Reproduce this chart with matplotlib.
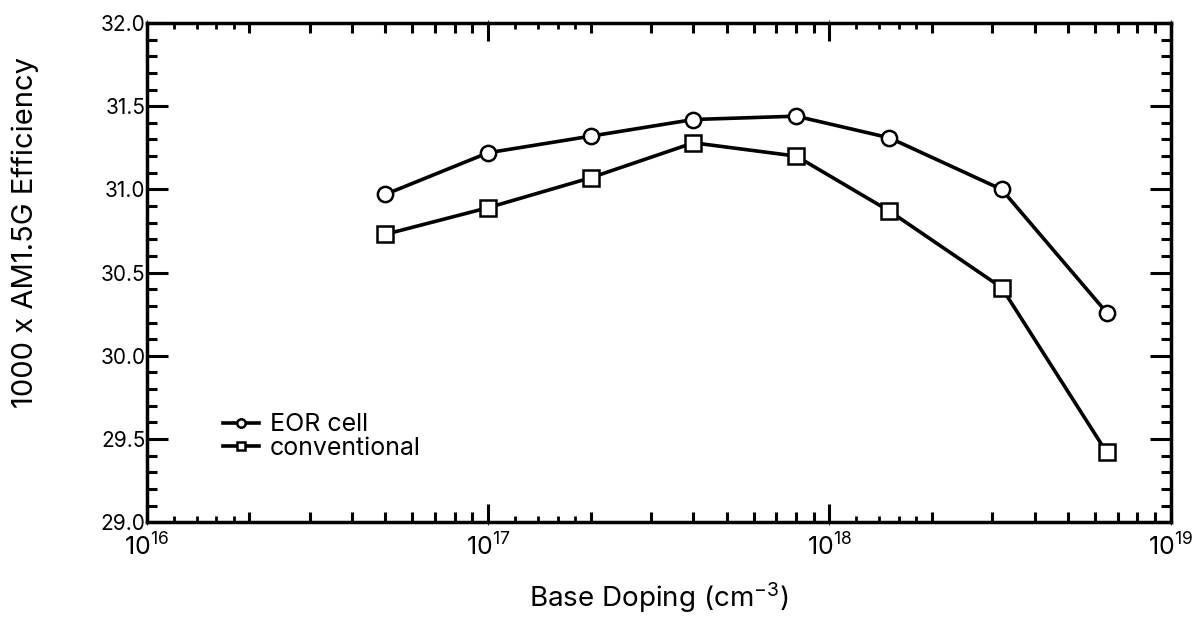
import numpy as np
import matplotlib
matplotlib.use("Agg")
import matplotlib.pyplot as plt
from matplotlib.ticker import LogLocator, MultipleLocator, FormatStrFormatter, NullFormatter

plt.rcParams["font.family"] = ["Inter", "DejaVu Sans"]
plt.rcParams["mathtext.default"] = "regular"

# dados
doping = [5e16, 1e17, 2e17, 4e17, 8e17, 1.5e18, 3.2e18, 6.5e18]
eor_eff = [30.97, 31.22, 31.32, 31.42, 31.44, 31.31, 31.00, 30.26]
conv_eff = [30.73, 30.89, 31.07, 31.28, 31.20, 30.87, 30.41, 29.42]

fig = plt.figure(figsize=(12.03, 6.21), dpi=100)
ax = fig.add_axes([0.122, 0.159, 0.851, 0.804])

ax.plot(doping, eor_eff, color="black", lw=2.6, marker="o", ms=11,
        mfc="white", mec="black", mew=1.8, label="EOR cell")
ax.plot(doping, conv_eff, color="black", lw=2.6, marker="s", ms=11,
        mfc="white", mec="black", mew=1.8, label="conventional")

ax.set_xscale("log")
ax.set_xlim(1e16, 1e19)
ax.set_ylim(29.0, 32.0)
ax.yaxis.set_major_locator(MultipleLocator(0.5))
ax.yaxis.set_minor_locator(MultipleLocator(0.1))
ax.yaxis.set_major_formatter(FormatStrFormatter("%.1f"))
ax.xaxis.set_major_locator(LogLocator(base=10, numticks=10))
ax.xaxis.set_minor_locator(LogLocator(base=10, subs=np.arange(2, 10), numticks=20))

ax.tick_params(which="both", direction="in", top=True, right=True, width=2.2)
ax.tick_params(axis="y", which="major", length=15, pad=1, labelsize=15)
ax.tick_params(axis="y", which="minor", length=7.5)
ax.tick_params(axis="x", which="major", length=13, pad=8, labelsize=18)
ax.tick_params(axis="x", which="minor", length=7)
for s in ax.spines.values():
    s.set_linewidth(2.5)

# tracinhos pequenos em 1.2, 1.4, 1.6, 1.8 de cada década
for side in ["bottom", "top"]:
    sec = ax.secondary_xaxis(side)
    sec.set_xscale("log")
    sec.xaxis.set_major_locator(LogLocator(base=10, subs=[1.2, 1.4, 1.6, 1.8], numticks=20))
    sec.xaxis.set_minor_locator(LogLocator(base=10, subs=[], numticks=20))
    sec.xaxis.set_major_formatter(NullFormatter())
    sec.xaxis.set_minor_formatter(NullFormatter())
    sec.tick_params(which="major", direction="in", length=4, width=2)
    sec.spines[side].set_visible(False)

ax.set_xlabel("Base Doping (cm$^{-3}$)", fontsize=20, labelpad=14)
ax.set_ylabel("1000 x AM1.5G Efficiency", fontsize=21)
ax.yaxis.set_label_coords(-0.105, 0.58)

ax.legend(loc="upper left", bbox_to_anchor=(0.074, 0.218), frameon=False, fontsize=18,
          borderpad=0, borderaxespad=0,
          handlelength=1.44, handletextpad=0.45, labelspacing=0.02, markerscale=0.55)

fig.savefig("out.png", dpi=100)
